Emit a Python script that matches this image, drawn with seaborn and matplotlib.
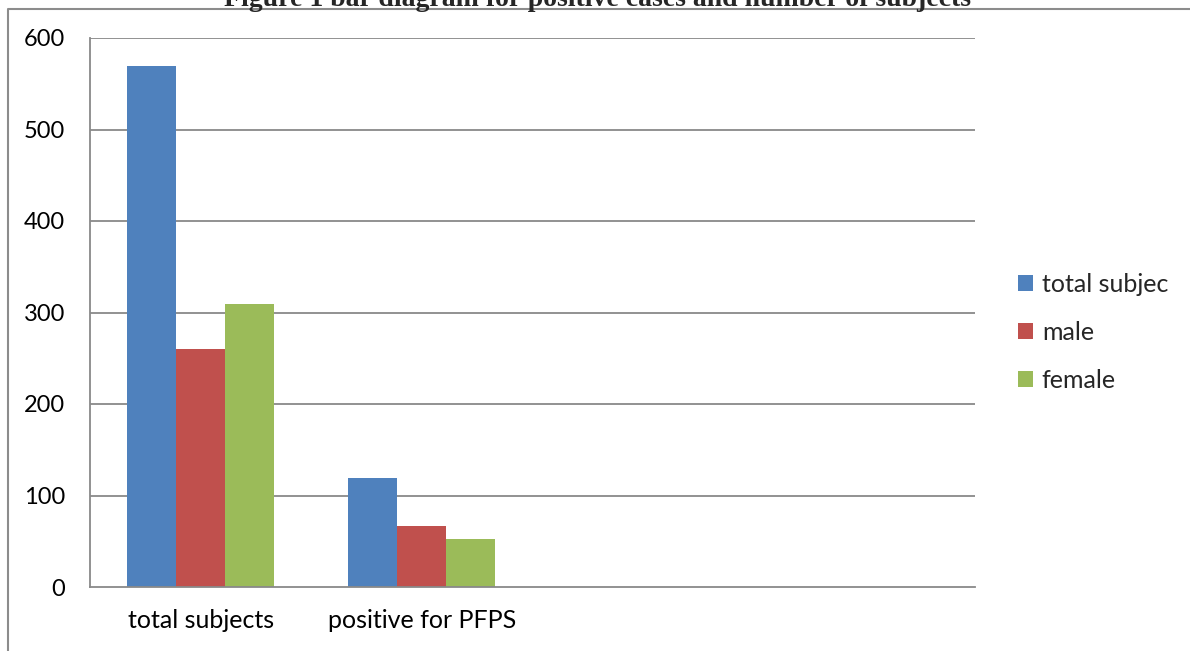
import matplotlib
matplotlib.use("Agg")
import matplotlib.pyplot as plt
from matplotlib.lines import Line2D
from matplotlib.patches import Patch
import seaborn as sns
import pandas as pd

categories = ["total subjects", "positive for PFPS"]
series = ["total subjec", "male", "female"]
total_vals = [569, 119]
male_vals = [260, 67]
female_vals = [309, 52]
yticks = [0, 100, 200, 300, 400, 500, 600]
title = "Figure 1 bar diagram for positive cases and number of subjects"
colors = ["#4F81BD", "#C0504D", "#9BBB59"]

rows = []
for s, vals in zip(series, [total_vals, male_vals, female_vals]):
    for c, v in zip(categories, vals):
        rows.append({"category": c, "series": s, "value": v})
df = pd.DataFrame(rows)

sns.set_style("white")
plt.rcParams["font.family"] = ["Lato", "DejaVu Sans"]

W, H = 1190, 651
fig = plt.figure(figsize=(W / 100, H / 100), dpi=100)
ax = fig.add_axes([90 / W, 1 - 587 / H, (975 - 90) / W, (587 - 38) / H])

sns.barplot(data=df, x="category", y="value", hue="series", order=categories,
            hue_order=series, palette=colors, width=0.665, saturation=1,
            ax=ax, legend=False, linewidth=0)

grid_c = "#898989"
ax.set_xlim(-0.5, 3.5)
ax.set_ylim(0, 600)
ax.set_yticks(yticks)
ax.set_yticklabels([str(t) for t in yticks], fontsize=17)
for t in yticks[1:]:
    ax.axhline(t, color=grid_c, lw=1.3, zorder=0)
ax.set_axisbelow(True)
ax.set_xlabel("")
ax.set_ylabel("")
ax.set_xticks([0, 1])
ax.set_xticklabels(categories, fontsize=18)
ax.set_xticks([-0.5, 0.5, 1.5, 2.5, 3.5], minor=True)
ax.tick_params(axis="x", which="major", length=0, pad=16, colors="black")
ax.tick_params(axis="x", which="minor", length=6, width=1.3, color=grid_c, direction="out")
ax.tick_params(axis="y", which="major", length=6, width=1.3, color=grid_c, pad=12, labelcolor="black")
for side in ["top", "right"]:
    ax.spines[side].set_visible(False)
for side in ["left", "bottom"]:
    ax.spines[side].set_color(grid_c)
    ax.spines[side].set_linewidth(1.3)

handles = [Patch(facecolor=c, edgecolor="none") for c in colors]
fig.legend(handles, series, loc="upper left", bbox_to_anchor=(1018 / W, 1 - 273 / H),
           frameon=False, fontsize=18, handlelength=0.6, handleheight=0.6,
           handletextpad=0.35, labelspacing=1.0, borderaxespad=0, borderpad=0)

# outer frame
fig.add_artist(Line2D([8 / W, 8 / W, 1.0], [0.0, 1 - 9 / H, 1 - 9 / H],
                      transform=fig.transFigure, color="#8c8c8c", lw=1.5))

fig.text(597 / W, 1 - 6 / H, title, ha="center", va="baseline",
         fontsize=20, fontweight="bold", family=["Liberation Serif", "DejaVu Serif"])

fig.savefig("out.png", dpi=100)
